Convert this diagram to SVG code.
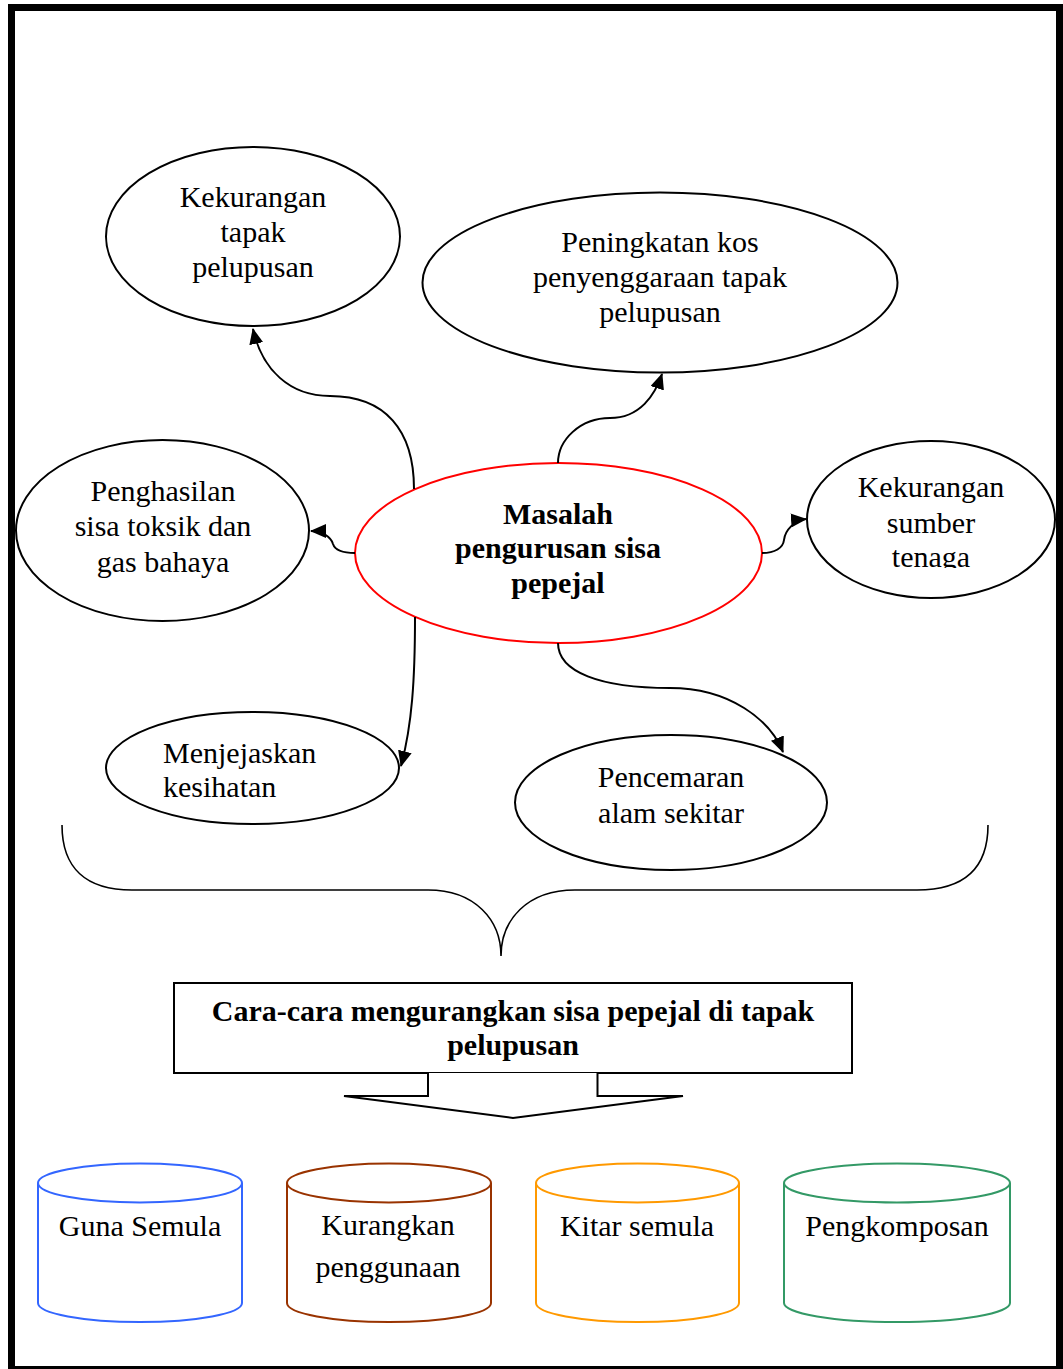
<svg xmlns="http://www.w3.org/2000/svg" width="1063" height="1369" viewBox="0 0 1063 1369">
<defs>
<style>
.t{font-family:"Liberation Serif","Times New Roman",serif;font-size:30px;fill:#000;text-anchor:middle}
.b{font-weight:bold}
.l{text-anchor:start}
.node{fill:#fff;stroke:#000;stroke-width:2}
.conn{fill:none;stroke:#000;stroke-width:2}
.cyl{fill:#fff;stroke-width:2}
</style>
<marker id="ah" markerUnits="userSpaceOnUse" markerWidth="16" markerHeight="14" refX="15" refY="7" orient="auto" viewBox="0 0 16 14">
<path d="M0,0 L16,7 L0,14 Z" fill="#000"/>
</marker>
<clipPath id="clipT"><rect x="800" y="430" width="260" height="138"/></clipPath>
</defs>
<rect x="0" y="0" width="1063" height="1369" fill="#fff"/>
<rect id="frame" x="11.5" y="7.5" width="1048" height="1362" fill="none" stroke="#000" stroke-width="7"/>

<g id="n-kekurangan-tapak">
<ellipse class="node" cx="253" cy="236.5" rx="147" ry="89.5"/>
<text class="t" x="253" y="207">Kekurangan</text>
<text class="t" x="253" y="242">tapak</text>
<text class="t" x="253" y="277">pelupusan</text>
</g>
<g id="n-peningkatan">
<ellipse class="node" cx="660" cy="282.5" rx="237.5" ry="90"/>
<text class="t" x="660" y="252">Peningkatan kos</text>
<text class="t" x="660" y="287">penyenggaraan tapak</text>
<text class="t" x="660" y="322">pelupusan</text>
</g>
<g id="n-penghasilan">
<ellipse class="node" cx="162.5" cy="530.5" rx="146.5" ry="90.5"/>
<text class="t" x="163" y="501">Penghasilan</text>
<text class="t" x="163" y="536">sisa toksik dan</text>
<text class="t" x="163" y="572">gas bahaya</text>
</g>
<g id="n-masalah">
<ellipse cx="558.5" cy="553" rx="203.5" ry="90" fill="#fff" stroke="#ff0000" stroke-width="2"/>
<text class="t b" x="558" y="524">Masalah</text>
<text class="t b" x="558" y="558">pengurusan sisa</text>
<text class="t b" x="558" y="593">pepejal</text>
</g>
<g id="n-sumber">
<ellipse class="node" cx="931" cy="519.5" rx="124" ry="78.5"/>
<text class="t" x="931" y="497">Kekurangan</text>
<text class="t" x="931" y="533">sumber</text>
<text class="t" x="931" y="567" clip-path="url(#clipT)">tenaga</text>
</g>
<g id="n-menjejaskan">
<ellipse class="node" cx="252.5" cy="768" rx="146.5" ry="56"/>
<text class="t l" x="163" y="763">Menjejaskan</text>
<text class="t l" x="163" y="797">kesihatan</text>
</g>
<g id="n-pencemaran">
<ellipse class="node" cx="671" cy="802.5" rx="156" ry="67.5"/>
<text class="t" x="671" y="787">Pencemaran</text>
<text class="t" x="671" y="823">alam sekitar</text>
</g>

<g id="connectors">
<path class="conn" marker-end="url(#ah)" d="M414,489 C414,430 385,396 330,396 C290,396 262,370 253,329"/>
<path class="conn" marker-end="url(#ah)" d="M558,463 C558,440 580,418 610,418 C640,418 655,395 662,374"/>
<path class="conn" marker-end="url(#ah)" d="M355,553 C343,553 335,550 333,544 C331,537 322,531 311,531"/>
<path class="conn" marker-end="url(#ah)" d="M762,553 C775,553 783,548 784,540 C785,530 795,520 806,519"/>
<path class="conn" marker-end="url(#ah)" d="M415,617 C415,680 412,725 401,766"/>
<path class="conn" marker-end="url(#ah)" d="M558,643 C558,672 600,688 670,688 C730,688 770,720 783,752"/>
<path id="brace" fill="none" stroke="#000" stroke-width="1.6" d="M62,825 C62,868 86,890 132,890 L428,890 C475,890 501,920 501,956 C501,920 527,890 575,890 L917,890 C965,890 988,868 988,825"/>
</g>

<g id="n-cara">
<rect x="174" y="983" width="678" height="90" fill="#fff" stroke="#000" stroke-width="2"/>
<text class="t b" x="513" y="1021">Cara-cara mengurangkan sisa pepejal di tapak</text>
<text class="t b" x="513" y="1055">pelupusan</text>
</g>
<g id="arrow-down">
<path d="M428,1073 L428,1096 L344,1096 L513,1118 L683,1096 L597.5,1096 L597.5,1073" fill="#fff" stroke="#000" stroke-width="2" stroke-linejoin="miter"/>
</g>

<g id="c-guna">
<path class="cyl" stroke="#3366ff" d="M38,1183 L38,1303 A102,19 0 0 0 242,1303 L242,1183"/>
<ellipse class="cyl" stroke="#3366ff" cx="140" cy="1183" rx="102" ry="19.5"/>
<text class="t" x="140" y="1236">Guna Semula</text>
</g>
<g id="c-kurangkan">
<path class="cyl" stroke="#993300" d="M287,1183 L287,1303 A102,19 0 0 0 491,1303 L491,1183"/>
<ellipse class="cyl" stroke="#993300" cx="389" cy="1183" rx="102" ry="19.5"/>
<text class="t" x="388" y="1235">Kurangkan</text>
<text class="t" x="388" y="1277">penggunaan</text>
</g>
<g id="c-kitar">
<path class="cyl" stroke="#ff9900" d="M536,1183 L536,1303 A101.5,19 0 0 0 739,1303 L739,1183"/>
<ellipse class="cyl" stroke="#ff9900" cx="637.5" cy="1183" rx="101.5" ry="19.5"/>
<text class="t" x="637" y="1236">Kitar semula</text>
</g>
<g id="c-pengkomposan">
<path class="cyl" stroke="#339966" d="M784,1183 L784,1303 A113,19 0 0 0 1010,1303 L1010,1183"/>
<ellipse class="cyl" stroke="#339966" cx="897" cy="1183" rx="113" ry="19.5"/>
<text class="t" x="897" y="1236">Pengkomposan</text>
</g>
</svg>
